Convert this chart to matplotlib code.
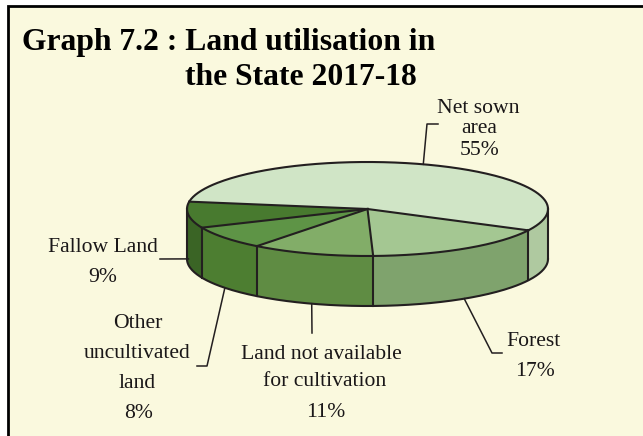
import numpy as np
import matplotlib
matplotlib.use("Agg")
import matplotlib.pyplot as plt
from matplotlib.patches import Polygon, Rectangle

plt.rcParams['font.family'] = ['Liberation Serif', 'DejaVu Serif']

# data
categories = ["Net sown area", "Forest", "Land not available for cultivation",
              "Other uncultivated land", "Fallow Land"]
shares = [55, 17, 11, 8, 9]
top_colors = ["#D0E5C6", "#A4C792", "#82AD68", "#5E9446", "#487A2F"]
side_colors = ["#AFC9A0", "#7FA36D", "#5F8C43", "#4D7E31", "#3A6425"]

# label lines: (text, x centre, baseline y) in pixels
labels = [
    [("Net sown", 478, 113), ("area", 479, 133), ("55%", 480, 155)],
    [("Forest", 533, 346), ("17%", 535, 376)],
    [("Land not available", 321, 359), ("for cultivation", 325, 386), ("11%", 326, 417)],
    [("Other", 138, 328), ("uncultivated", 137, 358), ("land", 137, 388), ("8%", 139, 418)],
    [("Fallow Land", 103, 252), ("9%", 103, 282)],
]
# leader line bends (after the anchor on the pie)
leaders = [
    [(427, 124), (438, 124)],
    [(492, 353), (502, 353)],
    [(312, 333)],
    [(207, 366), (197, 366)],
    [(160, 259)],
]

W, H = 643, 436
fig = plt.figure(figsize=(W / 100, H / 100), dpi=100)
ax = fig.add_axes([0, 0, 1, 1])
ax.set_xlim(0, W)
ax.set_ylim(H, 0)
ax.axis("off")

ax.add_patch(Rectangle((8, 6), 660, 460, facecolor="#FAF9DE", edgecolor="black", lw=2))

ax.text(22, 50, "Graph 7.2 : Land utilisation in", fontsize=22.8, fontweight="bold", va="baseline")
ax.text(185, 85, "the State 2017-18", fontsize=22.8, fontweight="bold", va="baseline")

# pie geometry
cx, cy, a, b, depth = 367.5, 209, 180.5, 47, 50
ec = "#231F20"
start = -27 + 360 * shares[0] / sum(shares)


def pt(t, dy=0):
    t = np.radians(t)
    return cx + a * np.cos(t), cy - b * np.sin(t) + dy


angles = [start]
for s in shares:
    angles.append(angles[-1] - 360 * s / sum(shares))

# sides (only the front half shows)
for i in range(len(shares)):
    hi, lo = angles[i], angles[i + 1]
    for k in (-1, 0, 1):
        l = max(lo, -180 + 360 * k)
        h = min(hi, 360 * k)
        if l < h:
            ts = np.linspace(l, h, 80)
            x, y = pt(ts)
            xs = np.concatenate([x, x[::-1]])
            ys = np.concatenate([y, y[::-1] + depth])
            ax.add_patch(Polygon(np.column_stack([xs, ys]), facecolor=side_colors[i],
                                 edgecolor="none"))

# top wedges
for i in range(len(shares)):
    ts = np.linspace(angles[i + 1], angles[i], 200)
    x, y = pt(ts)
    xs = np.concatenate([[cx], x])
    ys = np.concatenate([[cy], y])
    ax.add_patch(Polygon(np.column_stack([xs, ys]), facecolor=top_colors[i],
                         edgecolor="none"))

# outlines
lw = 1.5
ts = np.linspace(0, 360, 400)
ax.plot(*pt(ts), color=ec, lw=lw)
ts = np.linspace(-180, 0, 200)
ax.plot(*pt(ts, depth), color=ec, lw=lw)
for t in (-180, 0):
    x, y = pt(t)
    ax.plot([x, x], [y, y + depth], color=ec, lw=lw)
for t in angles[:-1]:
    x, y = pt(t)
    ax.plot([cx, x], [cy, y], color=ec, lw=lw)
    if np.sin(np.radians(t)) < 0:
        ax.plot([x, x], [y, y + depth], color=ec, lw=lw)

# labels and leader lines
for i in range(len(shares)):
    mid = (angles[i] + angles[i + 1]) / 2
    if np.sin(np.radians(mid)) > 0:
        anchor = pt(mid)
    else:
        anchor = pt(mid, depth * (0.88 if np.cos(np.radians(mid)) < -0.95 else 1))
    path = [anchor] + leaders[i]
    ax.plot([p[0] for p in path], [p[1] for p in path], color=ec, lw=1.1)
    for txt, x, y in labels[i]:
        ax.text(x, y, txt, fontsize=15.6, ha="center", va="baseline", color="#1A1718")

fig.savefig("out.png", dpi=100)
